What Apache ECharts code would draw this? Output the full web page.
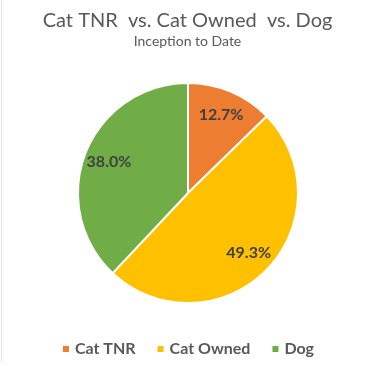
<!DOCTYPE html>
<html><head><meta charset="utf-8">
<script src="https://cdn.jsdelivr.net/npm/echarts@6/dist/echarts.min.js"></script>
<style>html,body{margin:0;padding:0;background:#fff}#c{width:375px;height:366px}</style>
</head><body><div id="c"></div>
<script>
const categories = ['Cat TNR', 'Cat Owned', 'Dog'];
const values = [12.7, 49.3, 38.0];
const colors = ['#ED7D31', '#FFC000', '#70AD47'];
const data = categories.map((n, i) => ({ name: n, value: values[i] }));
const chart = echarts.init(document.getElementById('c'));
chart.setOption({
  animation: false,
  backgroundColor: '#fff',
  color: colors,
  graphic: [{ type: 'line', shape: { x1: 1.5, y1: 0, x2: 1.5, y2: 362 }, style: { stroke: '#e4e4e4', lineWidth: 1 }, silent: true }],
  title: {
    text: 'Cat TNR  vs. Cat Owned  vs. Dog',
    subtext: 'Inception to Date',
    left: 'center', top: 6, itemGap: 3,
    textStyle: { fontFamily: 'Lato', fontSize: 20, fontWeight: 'normal', color: '#595959' },
    subtextStyle: { fontFamily: 'Lato', fontSize: 14, color: '#595959' }
  },
  legend: {
    bottom: 4, left: 'center', itemWidth: 8, itemHeight: 8, icon: 'rect', itemGap: 20,
    textStyle: { fontFamily: 'Lato', fontSize: 16, fontWeight: 'bold', color: '#595959' },
    data: categories
  },
  series: [{
    type: 'pie', radius: 110, center: [188, 193], startAngle: 90, clockwise: true,
    data: data, label: { show: false }, labelLine: { show: false },
    itemStyle: { borderColor: '#fff', borderWidth: 2 }, silent: true
  }, {
    type: 'pie', radius: 164, center: [188, 193], startAngle: 90, clockwise: true,
    data: data, silent: true,
    itemStyle: { color: 'rgba(0,0,0,0)' },
    label: { show: true, position: 'inside', formatter: p => p.value.toFixed(1) + '%',
      fontFamily: 'Lato', fontSize: 16, fontWeight: 'bold', color: '#404040' },
    labelLine: { show: false }
  }]
});
</script></body></html>
